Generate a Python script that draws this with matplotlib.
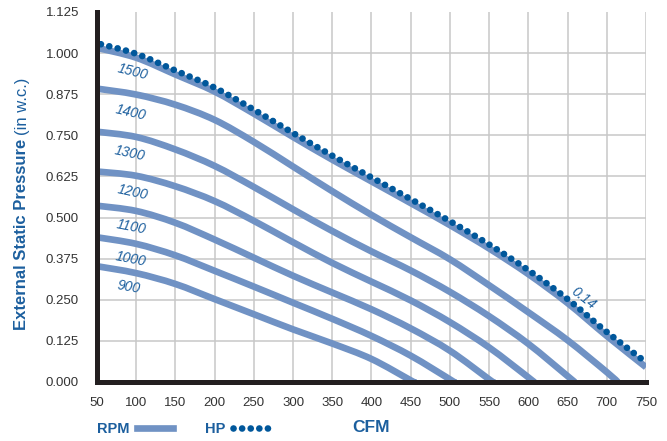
import matplotlib.pyplot as plt
from matplotlib.lines import Line2D
from matplotlib.path import Path
from matplotlib.patches import PathPatch

plt.rcParams['font.family'] = ['Liberation Sans', 'DejaVu Sans']

# fan curves: external static pressure (in w.c.) vs CFM for each RPM
cfm_1500 = [50, 100, 150, 200, 250, 300, 350, 400, 450, 500, 550, 600, 650, 700, 750]
esp_1500 = [1.016, 0.986, 0.935, 0.883, 0.816, 0.745, 0.676, 0.610, 0.544, 0.477, 0.406, 0.328, 0.240, 0.140, 0.045]

cfm_1400 = [50, 100, 150, 200, 250, 300, 350, 400, 450, 500, 550, 600, 650, 700, 714]
esp_1400 = [0.892, 0.874, 0.843, 0.797, 0.730, 0.655, 0.580, 0.508, 0.440, 0.373, 0.294, 0.212, 0.127, 0.030, 0.0]

cfm_1300 = [50, 100, 150, 200, 250, 300, 350, 400, 450, 500, 550, 600, 650, 659]
esp_1300 = [0.761, 0.745, 0.707, 0.657, 0.593, 0.525, 0.459, 0.397, 0.339, 0.274, 0.200, 0.116, 0.018, 0.0]

cfm_1200 = [50, 100, 150, 200, 250, 300, 350, 400, 450, 500, 550, 600, 607]
esp_1200 = [0.640, 0.627, 0.595, 0.550, 0.490, 0.425, 0.362, 0.305, 0.248, 0.182, 0.105, 0.014, 0.0]

cfm_1100 = [50, 100, 150, 200, 250, 300, 350, 400, 450, 500, 550, 555]
esp_1100 = [0.536, 0.520, 0.484, 0.433, 0.378, 0.323, 0.272, 0.221, 0.163, 0.095, 0.008, 0.0]

cfm_1000 = [50, 100, 150, 200, 250, 300, 350, 400, 450, 500, 505]
esp_1000 = [0.440, 0.420, 0.385, 0.338, 0.290, 0.241, 0.192, 0.140, 0.080, 0.008, 0.0]

cfm_900 = [50, 100, 150, 200, 250, 300, 350, 400, 450, 454]
esp_900 = [0.352, 0.331, 0.298, 0.252, 0.206, 0.160, 0.117, 0.070, 0.005, 0.0]

# 0.14 HP line
cfm_hp = [55, 100, 150, 200, 250, 300, 350, 400, 450, 500, 550, 600, 650, 700, 750]
esp_hp = [1.027, 0.998, 0.947, 0.895, 0.828, 0.757, 0.688, 0.622, 0.556, 0.489, 0.418, 0.340, 0.252, 0.152, 0.060]

rpm_names = ['1500', '1400', '1300', '1200', '1100', '1000', '900']
label_x = [95, 93, 92, 95, 93, 93, 91]
label_y = [0.944, 0.819, 0.694, 0.578, 0.471, 0.375, 0.290]
label_rot = [-14, -13, -12, -12, -11, -11, -10]

xticks = list(range(50, 751, 50))
yticks = [0.0, 0.125, 0.25, 0.375, 0.5, 0.625, 0.75, 0.875, 1.0, 1.125]

line_col = '#7092c4'
dot_col = '#00579b'
text_col = '#1c5f9e'
dots = (0, (0.01, 1.28))


def smooth_path(xs, ys):
    # catmull-rom through the read points, drawn as bezier segments
    pts = list(zip(xs, ys))
    verts = [pts[0]]
    codes = [Path.MOVETO]
    n = len(pts)
    for i in range(n - 1):
        p0 = pts[max(i - 1, 0)]
        p1 = pts[i]
        p2 = pts[i + 1]
        p3 = pts[min(i + 2, n - 1)]
        c1 = (p1[0] + (p2[0] - p0[0]) / 6, p1[1] + (p2[1] - p0[1]) / 6)
        c2 = (p2[0] - (p3[0] - p1[0]) / 6, p2[1] - (p3[1] - p1[1]) / 6)
        verts += [c1, c2, p2]
        codes += [Path.CURVE4] * 3
    return Path(verts, codes)


fig = plt.figure(figsize=(6.67, 4.41), dpi=100)
ax = fig.add_axes([0.1454, 0.1338, 0.8231, 0.839])

curves = [(cfm_1500, esp_1500), (cfm_1400, esp_1400), (cfm_1300, esp_1300),
          (cfm_1200, esp_1200), (cfm_1100, esp_1100), (cfm_1000, esp_1000),
          (cfm_900, esp_900)]
for xs, ys in curves:
    pp = PathPatch(smooth_path(xs, ys), fill=False, edgecolor=line_col, lw=4.8,
                   capstyle='butt', joinstyle='round', transform=ax.transData,
                   zorder=2)
    ax.add_patch(pp)

hp = PathPatch(smooth_path(cfm_hp, esp_hp), fill=False, edgecolor=dot_col,
               lw=4.8, linestyle=dots, capstyle='round', transform=ax.transData,
               zorder=3)
ax.add_patch(hp)

for name, lx, ly, rot in zip(rpm_names, label_x, label_y, label_rot):
    ax.text(lx, ly, name, color=text_col, fontsize=10, style='italic',
            rotation=rot, ha='center', va='center', rotation_mode='anchor')
ax.text(671, 0.255, '0.14', color=text_col, fontsize=10, style='italic',
        rotation=-38, ha='center', va='center', rotation_mode='anchor')

ax.set_xlim(50, 750)
ax.set_ylim(0, 1.125)
ax.set_xticks(xticks)
ax.set_yticks(yticks)
ax.set_yticklabels([f'{v:.3f}' for v in yticks])
ax.grid(True, color='#c8c8c8', lw=1.1)
ax.set_axisbelow(True)
ax.get_ygridlines()[-1].set_visible(False)

for s in ['top', 'right']:
    ax.spines[s].set_visible(False)
for s in ['left', 'bottom']:
    ax.spines[s].set_linewidth(3.6)
    ax.spines[s].set_color('#231f20')
    ax.spines[s].set_zorder(4)

ax.tick_params(length=0, labelsize=9.5, labelcolor='#333333')
ax.tick_params(axis='y', pad=13)
ax.tick_params(axis='x', pad=11)

ax.set_xlabel('CFM', fontsize=12.5, fontweight='bold', color=text_col, va='center')
ax.xaxis.set_label_coords(0.5, -0.124)

# y axis title: bold part + regular part
t1 = fig.text(22 / 667, 1 - 330 / 441, 'External Static Pressure', rotation=90,
              fontsize=12, fontweight='bold', color=text_col,
              ha='center', va='bottom')
fig.canvas.draw()
bb = t1.get_window_extent()
fig.text(22 / 667, (bb.y1 + 4) / fig.bbox.height, '(in w.c.)', rotation=90,
         fontsize=12, color=text_col, ha='center', va='bottom')

# legend under the chart
rpm_h = Line2D([], [], color=line_col, lw=4.8)
hp_h = Line2D([], [], color=dot_col, lw=4.8, linestyle=dots,
              dash_capstyle='round')
fig.legend([rpm_h, hp_h], ['RPM', 'HP'], ncol=2, markerfirst=False,
           frameon=False, loc='center left',
           bbox_to_anchor=(97 / 667, 1 - 429 / 441),
           prop={'weight': 'bold', 'size': 10.5}, labelcolor=text_col,
           handlelength=2.5, handletextpad=0.5, columnspacing=2.2,
           borderaxespad=0, borderpad=0)

fig.savefig('out.png', dpi=100)
